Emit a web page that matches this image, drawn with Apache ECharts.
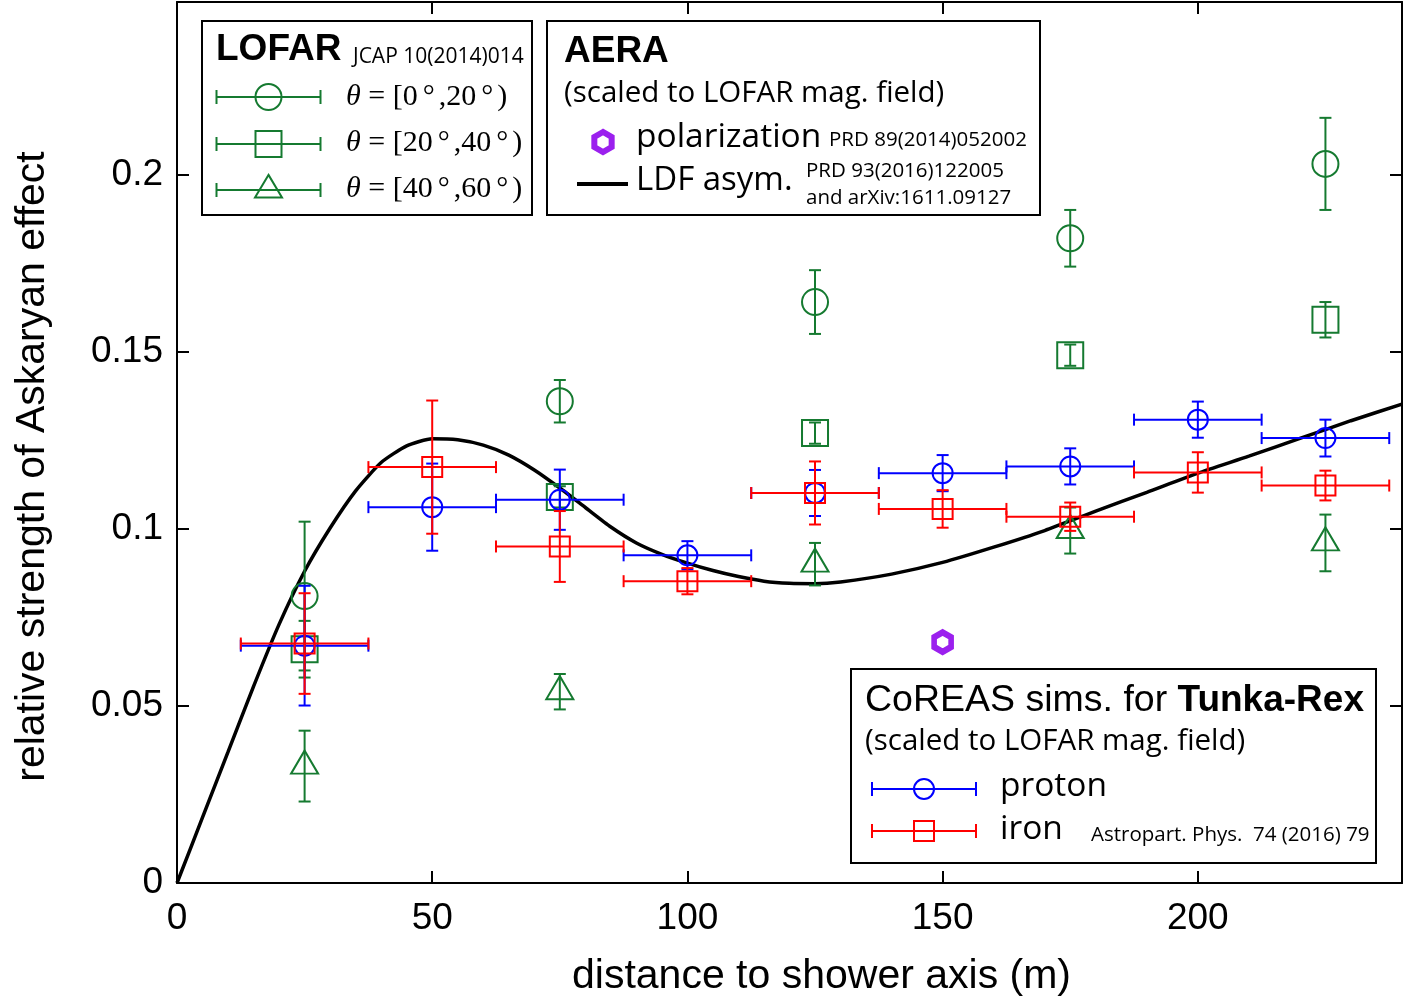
<!DOCTYPE html>
<html>
<head>
<meta charset="utf-8">
<script src="https://cdn.jsdelivr.net/npm/echarts@6/dist/echarts.min.js"></script>
<style>
  html, body { margin: 0; padding: 0; background: #fff; }
  #chart { width: 1404px; height: 1002px; }
</style>
</head>
<body>
<div id="chart"></div>
<script>
// CoREAS simulations for Tunka-Rex (distance bins in m)
const simDistances = [25, 50, 75, 100, 125, 150, 175, 200, 225]
const simBinHalfWidth = [12.5, 12.5, 12.5, 12.5, 12.5, 12.5, 12.5, 12.5, 12.5]
const protonValues = [0.0670, 0.1061, 0.1082, 0.0925, 0.1101, 0.1157, 0.1176, 0.1308, 0.1256]
const protonErrors = [0.0169, 0.0123, 0.0085, 0.0040, 0.0065, 0.0051, 0.0051, 0.0051, 0.0052]
const ironValues = [0.0676, 0.1174, 0.0950, 0.0852, 0.1101, 0.1056, 0.1034, 0.1159, 0.1122]
const ironErrors = [0.0142, 0.0188, 0.0100, 0.0037, 0.0089, 0.0053, 0.0040, 0.0057, 0.0042]

// LOFAR, three zenith ranges
const lofarDistances = [25, 75, 125, 175, 225]
const lofar0to20 = [0.081, 0.136, 0.164, 0.182, 0.203]
const lofar0to20Err = [0.021, 0.006, 0.009, 0.008, 0.013]
const lofar20to40 = [0.066, 0.109, 0.127, 0.149, 0.159]
const lofar20to40Err = [0.008, 0.003, 0.003, 0.003, 0.005]
const lofar40to60 = [0.033, 0.054, 0.090, 0.0995, 0.096]
const lofar40to60Err = [0.010, 0.005, 0.006, 0.0065, 0.008]

// AERA
const aeraPolDistance = [150]
const aeraPolValue = [0.068]
const ldfDistances = [0, 5, 10, 15, 20, 25, 30, 35, 40, 45, 50, 55, 60, 65, 70, 75, 80, 85, 90, 95,
  100, 105, 110, 115, 120, 125, 130, 140, 150, 160, 170, 180, 190, 200, 210, 220, 230, 240]
const ldfValues = [0, 0.0185, 0.0370, 0.0555, 0.0730, 0.0880, 0.1002, 0.1107, 0.1187, 0.1234, 0.1254, 0.1251,
  0.1236, 0.1208, 0.1166, 0.1115, 0.1060, 0.1005, 0.0960, 0.0928, 0.0903, 0.0882, 0.0865, 0.0852,
  0.0846, 0.0845, 0.0850, 0.0872, 0.0905, 0.0948, 0.0995, 0.1050, 0.1103, 0.1157, 0.1205, 0.1255,
  0.1305, 0.1352]

const xTicks = { min: 0, max: 240, interval: 50 }
const yTicks = { min: 0, max: 0.2487, interval: 0.05 }

const GREEN = '#157a30'
const BLUE = '#0000ff'
const RED = '#ff0000'
const PURPLE = '#9b20ee'
const AXIS_FONT = '"Liberation Sans", Arial, sans-serif'
const LEG_FONT = '"Open Sans", sans-serif'

const chart = echarts.init(document.getElementById('chart'), null, { renderer: 'canvas' })

// error bars: vertical (always) + horizontal (optional) with caps
function errorBars(xs, ys, yErr, xErr, color, z) {
  return {
    type: 'custom',
    z: z,
    silent: true,
    data: xs.map((x, i) => [x, ys[i], yErr[i], xErr ? xErr[i] : 0]),
    encode: { x: 0, y: 1 },
    renderItem: function (params, api) {
      const x = api.value(0), y = api.value(1), ey = api.value(2), ex = api.value(3)
      const st = { stroke: color, lineWidth: 2 }
      const cap = 6
      const t = api.coord([x, y + ey])
      const b = api.coord([x, y - ey])
      const kids = [
        { type: 'line', shape: { x1: t[0], y1: t[1], x2: b[0], y2: b[1] }, style: st },
        { type: 'line', shape: { x1: t[0] - cap, y1: t[1], x2: t[0] + cap, y2: t[1] }, style: st },
        { type: 'line', shape: { x1: b[0] - cap, y1: b[1], x2: b[0] + cap, y2: b[1] }, style: st }
      ]
      if (ex > 0) {
        const l = api.coord([x - ex, y])
        const r = api.coord([x + ex, y])
        kids.push(
          { type: 'line', shape: { x1: l[0], y1: l[1], x2: r[0], y2: r[1] }, style: st },
          { type: 'line', shape: { x1: l[0], y1: l[1] - cap, x2: l[0], y2: l[1] + cap }, style: st },
          { type: 'line', shape: { x1: r[0], y1: r[1] - cap, x2: r[0], y2: r[1] + cap }, style: st }
        )
      }
      return { type: 'group', children: kids }
    }
  }
}

function markers(xs, ys, symbol, size, color, z, offset) {
  return {
    type: 'scatter',
    z: z,
    silent: true,
    symbol: symbol,
    symbolSize: size,
    symbolOffset: offset || [0, 0],
    data: xs.map((x, i) => [x, ys[i]]),
    itemStyle: { color: 'rgba(0,0,0,0)', borderColor: color, borderWidth: 2, opacity: 1 }
  }
}

// legend glyph: horizontal bar with caps and a marker in the middle
function glyph(cx, cy, half, color, kind, size) {
  const st = { stroke: color, lineWidth: 2, fill: 'rgba(0,0,0,0)' }
  const els = [
    { type: 'line', shape: { x1: cx - half, y1: cy, x2: cx + half, y2: cy }, style: st },
    { type: 'line', shape: { x1: cx - half, y1: cy - 7, x2: cx - half, y2: cy + 7 }, style: st },
    { type: 'line', shape: { x1: cx + half, y1: cy - 7, x2: cx + half, y2: cy + 7 }, style: st }
  ]
  const h = size / 2
  if (kind === 'circle') els.push({ type: 'circle', shape: { cx: cx, cy: cy, r: h }, style: st })
  if (kind === 'rect') els.push({ type: 'rect', shape: { x: cx - h, y: cy - h, width: size, height: size }, style: st })
  if (kind === 'triangle') {
    const th = size * 0.84
    els.push({ type: 'polygon', shape: { points: [[cx, cy - th * 2 / 3], [cx + h, cy + th / 3], [cx - h, cy + th / 3]] }, style: st })
  }
  return els
}

function txt(x, y, text, font, extra) {
  return {
    type: 'text', x: x, y: y,
    style: Object.assign({ text: text, font: font, fill: '#000', align: 'left', verticalAlign: 'middle' }, extra || {})
  }
}

function thetaRow(x, y, a, b) {
  return {
    type: 'text', x: x, y: y,
    style: {
      text: '{t|θ}{n| = [' + a + '}{d|°}{n|,' + b + '}{d|°}{n|)}',
      verticalAlign: 'middle',
      rich: {
        t: { fontFamily: '"Liberation Serif", serif', fontStyle: 'italic', fontSize: 30, fill: '#000' },
        n: { fontFamily: '"Liberation Serif", serif', fontSize: 30, fill: '#000' },
        d: { fontFamily: '"Liberation Serif", serif', fontSize: 30, fill: '#000', padding: [0, 4, 0, 5] }
      }
    }
  }
}

function hexPoints(cx, cy, r) {
  const pts = []
  for (let k = 0; k < 6; k++) {
    const a = Math.PI / 2 + k * Math.PI / 3
    pts.push([cx + r * Math.cos(a), cy - r * Math.sin(a)])
  }
  return pts
}

const boxStyle = { fill: '#fff', stroke: '#000', lineWidth: 2 }
const hexPath = 'path://M0,-10L8.66,-5L8.66,5L0,10L-8.66,5L-8.66,-5Z'

const legendEls = [].concat(
  // LOFAR box
  [{ type: 'rect', shape: { x: 202, y: 21, width: 330, height: 194 }, style: boxStyle }],
  [txt(216, 50, 'LOFAR', 'bold 37px ' + AXIS_FONT), txt(353, 57, 'JCAP 10(2014)014', '21px ' + LEG_FONT)],
  glyph(268.5, 97, 52, GREEN, 'circle', 26),
  glyph(268.5, 144, 52, GREEN, 'rect', 26),
  glyph(268.5, 190, 52, GREEN, 'triangle', 27),
  [thetaRow(346, 97, '0', '20'), thetaRow(346, 143, '20', '40'), thetaRow(346, 189, '40', '60')],
  // AERA box
  [{ type: 'rect', shape: { x: 547, y: 21, width: 493, height: 194 }, style: boxStyle }],
  [txt(564, 52, 'AERA', 'bold 37px ' + AXIS_FONT),
    txt(564, 94, '(scaled to LOFAR mag. field)', '29.5px ' + LEG_FONT),
    { type: 'polygon', shape: { points: hexPoints(603, 142, 10) },
      style: { fill: '#fff', stroke: PURPLE, lineWidth: 6 } },
    txt(636, 137, 'polarization', '33.5px ' + LEG_FONT),
    txt(829, 140, 'PRD 89(2014)052002', '20.5px ' + LEG_FONT),
    { type: 'line', shape: { x1: 577, y1: 184, x2: 628, y2: 184 }, style: { stroke: '#000', lineWidth: 4 } },
    txt(636, 181, 'LDF asym.', '33px ' + LEG_FONT),
    txt(806, 171, 'PRD 93(2016)122005', '20.5px ' + LEG_FONT),
    txt(806, 198, 'and arXiv:1611.09127', '20.5px ' + LEG_FONT)],
  // CoREAS box
  [{ type: 'rect', shape: { x: 851, y: 669, width: 525, height: 194 }, style: boxStyle }],
  [{ type: 'text', x: 865, y: 701, style: {
      text: '{n|CoREAS sims. for }{b|Tunka-Rex}', verticalAlign: 'middle',
      rich: {
        n: { fontFamily: AXIS_FONT, fontSize: 37.5, fill: '#000' },
        b: { fontFamily: AXIS_FONT, fontWeight: 'bold', fontSize: 37, fill: '#000' }
      } } },
    txt(865, 742, '(scaled to LOFAR mag. field)', '29.5px ' + LEG_FONT)],
  glyph(924, 789, 52, BLUE, 'circle', 20),
  glyph(924, 831, 52, RED, 'rect', 20),
  [txt(1000, 786, 'proton', '33.5px ' + LEG_FONT),
    txt(1000, 829, 'iron', '33.5px ' + LEG_FONT),
    txt(1091, 835, 'Astropart. Phys.  74 (2016) 79', '20.5px ' + LEG_FONT)]
)
legendEls.forEach(e => { e.z = 100 })

const hiddenAxis = {
  type: 'value',
  axisLine: { show: true, onZero: false, lineStyle: { color: '#000', width: 2 } },
  axisTick: { show: true, inside: true, length: 12, lineStyle: { color: '#000', width: 2 } },
  axisLabel: { show: false },
  splitLine: { show: false }
}

const option = {
  backgroundColor: '#fff',
  animation: false,
  grid: { left: 177, right: 2, top: 2, bottom: 117, containLabel: false },
  xAxis: [
    {
      type: 'value', position: 'bottom',
      min: xTicks.min, max: xTicks.max, interval: xTicks.interval,
      axisLine: { onZero: false, lineStyle: { color: '#000', width: 2 } },
      axisTick: { inside: true, length: 12, lineStyle: { color: '#000', width: 2 } },
      axisLabel: { color: '#000', fontSize: 37, fontFamily: AXIS_FONT, margin: 17, showMaxLabel: false },
      splitLine: { show: false },
      name: 'distance to shower axis (m)',
      nameLocation: 'middle',
      nameGap: 73,
      nameTextStyle: { color: '#000', fontSize: 41, fontFamily: AXIS_FONT, padding: [0, 0, 0, 64] }
    },
    Object.assign({ position: 'top', min: xTicks.min, max: xTicks.max, interval: xTicks.interval }, hiddenAxis)
  ],
  yAxis: [
    {
      type: 'value', position: 'left',
      min: yTicks.min, max: yTicks.max, interval: yTicks.interval,
      axisLine: { onZero: false, lineStyle: { color: '#000', width: 2 } },
      axisTick: { inside: true, length: 12, lineStyle: { color: '#000', width: 2 } },
      axisLabel: { color: '#000', fontSize: 37, fontFamily: AXIS_FONT, margin: 14, showMaxLabel: false },
      splitLine: { show: false },
      name: 'relative strength of Askaryan effect',
      nameLocation: 'middle',
      nameGap: 124,
      nameTextStyle: { color: '#000', fontSize: 41, fontFamily: AXIS_FONT, padding: [0, 48, 0, 0] }
    },
    Object.assign({ position: 'right', min: yTicks.min, max: yTicks.max, interval: yTicks.interval }, hiddenAxis)
  ],
  graphic: { elements: legendEls },
  series: [
    {
      type: 'line', z: 1, silent: true,
      data: ldfDistances.map((x, i) => [x, ldfValues[i]]),
      showSymbol: false, smooth: 0.2,
      lineStyle: { color: '#000', width: 3.5 }
    },
    errorBars(lofarDistances, lofar0to20, lofar0to20Err, null, GREEN, 2),
    errorBars(lofarDistances, lofar20to40, lofar20to40Err, null, GREEN, 2),
    errorBars(lofarDistances, lofar40to60, lofar40to60Err, null, GREEN, 2),
    markers(lofarDistances, lofar0to20, 'circle', 26, GREEN, 2),
    markers(lofarDistances, lofar20to40, 'rect', 26, GREEN, 2),
    markers(lofarDistances, lofar40to60, 'triangle', [27, 23], GREEN, 2, [0, -4]),
    errorBars(simDistances, protonValues, protonErrors, simBinHalfWidth, BLUE, 3),
    markers(simDistances, protonValues, 'circle', 20, BLUE, 3),
    errorBars(simDistances, ironValues, ironErrors, simBinHalfWidth, RED, 4),
    markers(simDistances, ironValues, 'rect', 20, RED, 4),
    {
      type: 'scatter', z: 5, silent: true,
      symbol: hexPath, symbolSize: [17, 19.5],
      data: aeraPolDistance.map((x, i) => [x, aeraPolValue[i]]),
      itemStyle: { color: '#fff', borderColor: PURPLE, borderWidth: 6, opacity: 1 }
    }
  ]
}

chart.setOption(option)
</script>
</body>
</html>
